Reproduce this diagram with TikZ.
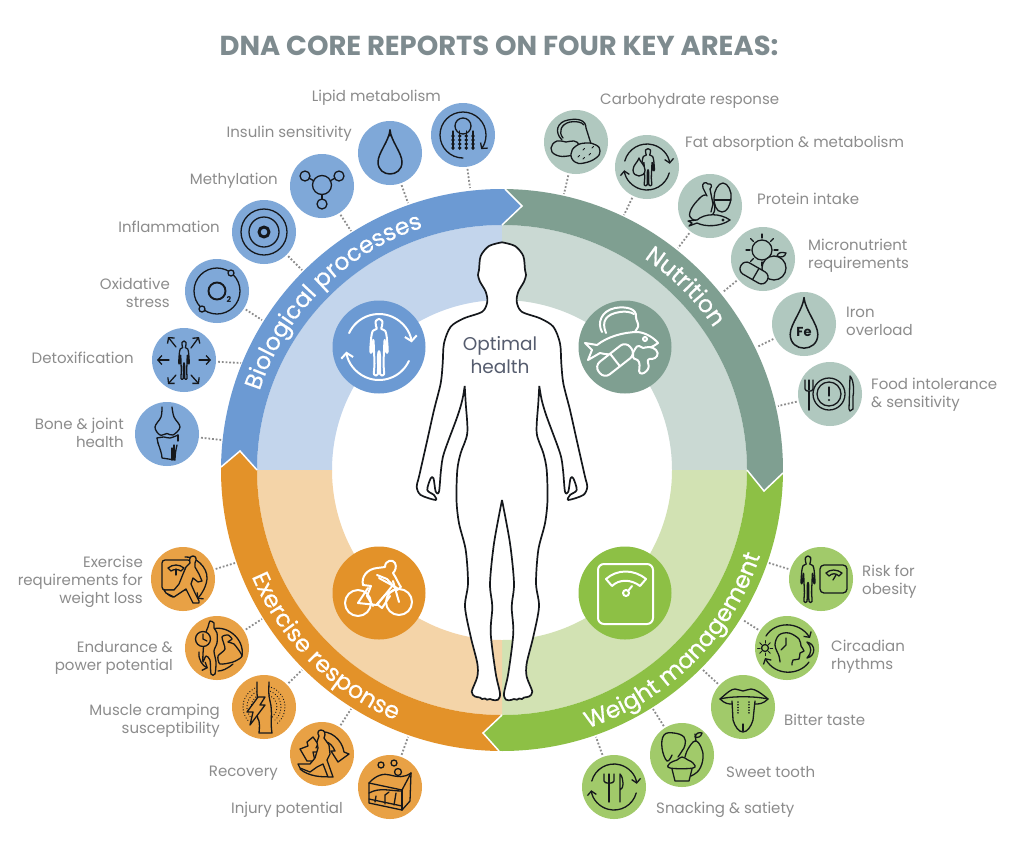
\documentclass[tikz,border=0pt]{standalone}
\usepackage{fontspec}
\setmainfont{Poppins}
\newfontfamily\fp{Poppins}
\newfontfamily\fpb[FakeBold=0.5]{Poppins}
\usetikzlibrary{arrows.meta,decorations.text,shapes.geometric}
\definecolor{bb}{HTML}{6C9AD3}\definecolor{bp}{HTML}{C3D5EC}\definecolor{bs}{HTML}{7FA8D8}
\definecolor{tb}{HTML}{7F9F91}\definecolor{tp}{HTML}{CAD9D3}\definecolor{ts}{HTML}{B0C8BF}
\definecolor{gb}{HTML}{8DC045}\definecolor{gp}{HTML}{D2E2B3}\definecolor{gs}{HTML}{A1CA6A}
\definecolor{ob}{HTML}{E39229}\definecolor{op}{HTML}{F4D4A8}\definecolor{os}{HTML}{E8A145}
\definecolor{lab}{HTML}{8C8C8C}\definecolor{ttl}{HTML}{7E8B8F}\definecolor{dk}{HTML}{15181C}\definecolor{opt}{HTML}{555C6E}
\tikzset{
 ic/.style={draw=dk,line width=1.3pt,line join=round,line cap=round},
 wi/.style={draw=white,line width=2pt,line join=round,line cap=round},
 arh/.style={-{Straight Barb[length=4pt,width=9pt]}},
 arw/.style={-{Straight Barb[length=5pt,width=12pt]}},
 sm/.style={circle,inner sep=0pt,minimum size=64pt,fill=#1},
 lg/.style={circle,inner sep=0pt,minimum size=93pt,fill=#1},
 lr/.style={anchor=east,align=right,text=lab,inner sep=0pt,font=\fp\fontsize{15}{18}\selectfont},
 ll/.style={anchor=west,align=left,text=lab,inner sep=0pt,font=\fp\fontsize{15}{18}\selectfont},
 dots/.style={draw=lab,line width=1.8pt,dash pattern=on 1.8pt off 1.9pt},
 bodyl/.style={draw=dk,line width=1.7pt,line join=round},
 bandt/.style={postaction={decorate},decoration={text along path,text align=center,text={#1}}},
}
\newcommand\icn[2]{\begin{scope}[shift={(#1.center)}]#2\end{scope}}
\newcommand\hum[1][ic]{\draw[#1] plot[smooth cycle,tension=.45] coordinates {(0,-20)(2.6,-18.5)(2.4,-15)(1.8,-13)(5,-11.5)(6.2,-7)(7,3)(5.8,3.5)(4.5,-5)(4,3)(3.6,12)(4,19.5)(1,19.5)(0.8,6)(0,3)(-0.8,6)(-1,19.5)(-4,19.5)(-3.6,12)(-4,3)(-4.5,-5)(-5.8,3.5)(-7,3)(-6.2,-7)(-5,-11.5)(-1.8,-13)(-2.4,-15)(-2.6,-18.5)};}
\newcommand\carrows[2][ic]{\draw[#1,arh] (165:#2pt) arc[start angle=165,end angle=8,radius=#2pt];\draw[#1,arh] (-15:#2pt) arc[start angle=-15,end angle=-172,radius=#2pt];}
\newcommand\dropp[1][ic]{\draw[#1] (0,-23) .. controls (1,-12) and (12,0) .. (12,9) .. controls (12,17) and (6,21) .. (0,21) .. controls (-6,21) and (-12,17) .. (-12,9) .. controls (-12,0) and (-1,-12) .. (0,-23) -- cycle;}
\newcommand\bodypath[1]{plot[smooth,tension=.5] coordinates {(502,242.3)(515,246)(523.3,256)(525,270)(526,275)(524,281.7)(518.3,291.7)(516.7,301.7)(521.7,311.7)(540,318.3)(553.3,326.7)(560,343.3)(561.3,363.3)(563.3,383.3)(570,410)(576.7,440)(585,476.7)(587.3,486.7)(583.3,495)(568.3,500)(570,495)(576.7,490)(573.3,478.3)(570.5,478.3)(568.3,491.7)(565,491.7)(563,470)(560,453)(546.7,416.7)(541.7,400)(539.3,386)} #1 plot[smooth,tension=.5] coordinates {(539.3,386)(538.3,403)(536.7,433)(543.3,453)(546.7,470)(547.5,500)(545,523.3)(538.3,550)(536,583.3)(539,606.7)(533.3,636.7)(526.7,663.3)(526.7,676.7)(532.3,691.7)(529,696.5)(524,697.5)(522,699)(519,698.5)(517,699.7)(514,699)(511,700)(506,699.7)(504,693.3)(508.3,673.3)(513.3,633.3)(511.7,606.7)(514,583.3)(510,543.3)(502,500)}}
\begin{document}
\begin{tikzpicture}[x=1pt,y=-1pt]
\useasboundingbox (0,0) rectangle (1024,852);
\fill[white] (0,0) rectangle (1024,852);
\coordinate (O) at (502,470);
% pale sectors
\newcommand\pale[3]{\fill[#1] ([shift={(O)}]#2:245pt) arc[start angle=#2,end angle=#3,radius=245pt] -- ([shift={(O)}]#3:170pt) arc[start angle=#3,end angle=#2,radius=170pt] -- cycle;}
\pale{bp}{90}{180}\pale{tp}{0}{90}\pale{gp}{-90}{0}\pale{op}{180}{270}
% bands
\coordinate (tB) at (522,206);\coordinate (tT) at (764,491);\coordinate (tG) at (483,733);\coordinate (tO) at (240,451);
\fill[bb] ([shift={(O)}]179.39:281pt) arc[start angle=179.39,end angle=89.39,radius=281pt] -- (tB) -- ([shift={(O)}]90:245pt) arc[start angle=90,end angle=180,radius=245pt] -- (tO) -- cycle;
\fill[tb] ([shift={(O)}]89.39:281pt) arc[start angle=89.39,end angle=-0.61,radius=281pt] -- (tT) -- ([shift={(O)}]0:245pt) arc[start angle=0,end angle=90,radius=245pt] -- (tB) -- cycle;
\fill[gb] ([shift={(O)}]-0.61:281pt) arc[start angle=-0.61,end angle=-90.61,radius=281pt] -- (tG) -- ([shift={(O)}]-90:245pt) arc[start angle=-90,end angle=0,radius=245pt] -- (tT) -- cycle;
\fill[ob] ([shift={(O)}]-90.61:281pt) arc[start angle=-90.61,end angle=-180.61,radius=281pt] -- (tO) -- ([shift={(O)}]180:245pt) arc[start angle=180,end angle=270,radius=245pt] -- (tG) -- cycle;
\draw[white,line width=1.5pt] ([shift={(O)}]89.39:281pt) -- (tB) -- ([shift={(O)}]90:245pt);
\draw[white,line width=1.5pt] ([shift={(O)}]-0.61:281pt) -- (tT) -- ([shift={(O)}]0:245pt);
\draw[white,line width=1.5pt] ([shift={(O)}]-90.61:281pt) -- (tG) -- ([shift={(O)}]-90:245pt);
\draw[white,line width=1.5pt] ([shift={(O)}]-180.61:281pt) -- (tO) -- ([shift={(O)}]180:245pt);
% band text
\path[bandt={|\fpb\fontsize{23.5}{24}\selectfont\color{white}|Biological processes}] ([shift={(O)}]178:255pt) arc[start angle=178,end angle=92,radius=255pt];
\path[bandt={|\fpb\fontsize{23.5}{24}\selectfont\color{white}|Nutrition}] ([shift={(O)}]88:255pt) arc[start angle=88,end angle=2,radius=255pt];
\path[bandt={|\fpb\fontsize{23.5}{24}\selectfont\color{white}|Weight management}] ([shift={(O)}]-88:272pt) arc[start angle=-88,end angle=-2,radius=272pt];
\path[bandt={|\fpb\fontsize{23.5}{24}\selectfont\color{white}|Exercise response}] ([shift={(O)}]182:272pt) arc[start angle=182,end angle=268,radius=272pt];
% title
\node[inner sep=0pt,text=ttl,font=\fp\bfseries\fontsize{27.4}{28}\selectfont] (title) at (499,46) {DNA CORE REPORTS ON FOUR KEY AREAS:};
% big circles
\node[lg=bb] (L1) at (379,347) {};\node[lg=tb] (L2) at (625,347) {};\node[lg=ob] (L3) at (379,593) {};\node[lg=gb] (L4) at (625,593) {};
\icn{L1}{\draw[wi,arw] (155:33pt) arc[start angle=155,end angle=8,radius=33pt];\draw[wi,arw] (-25:33pt) arc[start angle=-25,end angle=-172,radius=33pt];
 \begin{scope}[xscale=1.25,yscale=1.4]\hum[wi]\end{scope}}
\icn{L2}{
 \draw[wi] (-23,-15) .. controls (-28,-24) and (-24,-36) .. (-10,-39) .. controls (2,-41) and (12,-38) .. (11,-30) .. controls (11,-26) and (14,-24) .. (13,-20) -- (10,-15);
 \draw[wi] (-19,-14) .. controls (-24,-26) and (-19,-33) .. (-5,-35) .. controls (0,-36) and (6,-35) .. (9,-33);
 \draw[wi,fill=tb] (-40,-4) -- (-28,-2) .. controls (-18,-10) and (-2,-15) .. (13,-15) .. controls (22,-14) and (30,-8) .. (33,-4) .. controls (28,0) and (24,1) .. (22,1) .. controls (10,5) and (-10,10) .. (-25,6) -- (-37,13) -- (-33,3) -- cycle;
 \draw[wi] (20,-8) circle (2pt);
 \begin{scope}[shift={(-10,13)},rotate=38]\draw[wi,fill=tb,rounded corners=7pt] (-20,-8) rectangle (20,8);\draw[wi] (0,-8)--(0,8);\end{scope}
 \draw[wi,fill=tb] plot[smooth cycle,tension=.9] coordinates {(10,2)(14,-1)(18,1)(24,0)(31,3)(32,9)(27,12)(23,13)(23,22)(15,26)(14,15)(8,10)};
}
\icn{L3}{
 \draw[wi] (-21,10) circle (13pt);\draw[wi] (20,9) circle (13pt);
 \draw[wi] (-21,10) -- (-11,-5);\draw[wi] (14,-12) -- (20,9);\draw[wi] (-21,10) -- (-2,12) -- (14,-8);
 \draw[wi] (-16,-8) .. controls (-18,-16) and (-12,-24) .. (-2,-25) -- (6,-26) .. controls (6,-33) and (14,-34) .. (16,-30) .. controls (18,-26) and (16,-22) .. (14,-20) .. controls (18,-14) and (20,-8) .. (22,-6) -- (18,-3) -- (8,-14) -- (-2,-18);
 \draw[wi] (-16,-8) -- (-8,-7) -- (-12,3) -- (-6,13);
 \draw[wi] (0,-15) -- (18,-5) -- (6,2) -- (-2,11) -- (3,15) -- (11,3);
}
\icn{L4}{
 \draw[wi,rounded corners=6pt] (-27,-29) rectangle (28,31);
 \draw[wi] (-19,-14) .. controls (-8,-24) and (9,-24) .. (21,-14) -- (15,-7) .. controls (6,-14) and (-6,-14) .. (-13,-7) -- cycle;
 \draw[wi] (7,-7) -- (3,-2);\draw[wi] (1,0) circle (3pt);
}
% body
\fill[white] \bodypath{--} -- cycle;
\begin{scope}[shift={(1004,0)},xscale=-1]\fill[white] \bodypath{--} -- cycle;\end{scope}
\draw[bodyl] \bodypath{};
\begin{scope}[shift={(1004,0)},xscale=-1]\draw[bodyl] \bodypath{};\end{scope}
\node[inner sep=0pt,align=center,text=opt,font=\fp\fontsize{18.5}{23}\selectfont] (opth) at (500,355) {Optimal\\health};
% small circles
\foreach \n/\p in {b1/{463,135},b2/{390,153},b3/{322,186},b4/{264,232},b5/{217,291},b6/{184,360},b7/{167,434}}{\node[sm=bs] (\n) at (\p) {};}
\foreach \n/\p in {t1/{576,142},t2/{647,167},t3/{710,206},t4/{763,259},t5/{804,324},t6/{830,394}}{\node[sm=ts] (\n) at (\p) {};}
\foreach \n/\p in {g1/{821,579},g2/{787,648},g3/{743,707},g4/{682,755},g5/{614,787}}{\node[sm=gs] (\n) at (\p) {};}
\foreach \n/\p in {o1/{183,579},o2/{217,648},o3/{264,707},o4/{322,754},o5/{390,787}}{\node[sm=os] (\n) at (\p) {};}
% connectors
\foreach \n/\p in {b1/{470,188},b2/{408,203},b3/{351,231},b4/{302,270},b5/{262,320},b6/{241,363},b7/{222,440},
 t1/{564,194},t2/{624,215},t3/{678,248},t4/{723,292},t5/{757,347},t6/{778,406},
 g1/{769,563},g2/{743,620},g3/{703,670},g4/{653,709},g5/{596,737},
 o1/{235,563},o2/{262,619},o3/{302,670},o4/{351,709},o5/{408,737}}{
 \coordinate (e\n) at (\p);\draw[dots,shorten <=2pt] (\n) -- (e\n);}
% labels
\node[lr] (lb1) at (441,97.5) {Lipid metabolism};
\node[lr] (lb2) at (352,134) {Insulin sensitivity};
\node[lr] (lb3) at (278,181) {Methylation};
\node[lr] (lb4) at (220,227) {Inflammation};
\node[lr] (lb5) at (170,292.5) {Oxidative\\stress};
\node[lr] (lb6) at (134,358) {Detoxification};
\node[lr] (lb7) at (124,432.5) {Bone \& joint\\health};
\node[ll] (lt1) at (600,101) {Carbohydrate response};
\node[ll] (lt2) at (685,144) {Fat absorption \& metabolism};
\node[ll] (lt3) at (757,199) {Protein intake};
\node[ll] (lt4) at (808,256) {Micronutrient\\requirements};
\node[ll] (lt5) at (846,321) {Iron\\overload};
\node[ll] (lt6) at (871,395) {Food intolerance\\\& sensitivity};
\node[ll] (lg1) at (862,582) {Risk for\\obesity};
\node[ll] (lg2) at (831,657) {Circadian\\rhythms};
\node[ll] (lg3) at (784,720) {Bitter taste};
\node[ll] (lg4) at (726,772) {Sweet tooth};
\node[ll] (lg5) at (656,810) {Snacking \& satiety};
\node[lr] (lo1) at (143,582) {Exercise\\requirements for\\weight loss};
\node[lr] (lo2) at (173,658) {Endurance \&\\power potential};
\node[lr] (lo3) at (220,721) {Muscle cramping\\susceptibility};
\node[lr] (lo4) at (278,773) {Recovery};
\node[lr] (lo5) at (343,810) {Injury potential};
% ---- icons blue
\icn{b1}{\draw[ic,arh] (270:23pt) arc[start angle=270,end angle=-38,radius=23pt];
 \draw[ic] (0,-9) circle (8pt);
 \foreach \x in {-10,-3.3,3.3,10}{\draw[ic] (\x,-4) -- (\x,14);\foreach \y in {1,5,9,13}{\fill[dk] (\x,\y) circle (1.9pt);}}}
\icn{b2}{\dropp[ic,line width=1.5pt]\draw[ic] (0,-23)--(0,-17);}
\icn{b3}{\draw[ic] (0,-1) circle (9.5pt);\draw[ic] (-17,-10) circle (5pt);\draw[ic] (17,-10) circle (5pt);\draw[ic] (0,18) circle (5pt);\draw[ic] (-13,-8)--(-8,-5);\draw[ic] (13,-8)--(8,-5);\draw[ic] (0,8.5)--(0,13);}
\icn{b4}{\draw[ic] (0,0) circle (23pt);\draw[ic] (0,0) circle (15pt);\draw[ic,line width=3pt] (0,0) circle (5pt);}
\icn{b5}{\draw[ic] (0,0) circle (23pt);\draw[ic,fill=bs] (14,-18) circle (3pt);\draw[ic,fill=bs] (-15,18) circle (3pt);\draw[ic,line width=1.9pt] (0,0) circle (8.5pt);
 \node[inner sep=0pt,text=dk,font=\fp\bfseries\fontsize{8}{8}\selectfont] (o2t) at (12,9) {2};}
\icn{b6}{\begin{scope}[xscale=.75,yscale=.95]\hum\end{scope}
 \foreach \a/\b/\c/\d in {-15/0/-27/0,15/0/27/0,-8/-13/-16/-23,7/-12/15/-23,-8/15/-16/24,7/15/15/24}{\draw[ic,arh] (\a,\b) -- (\c,\d);}}
\icn{b7}{\draw[ic] plot[smooth,tension=.6] coordinates {(-5,-27)(-6,-17)(-12,-7)(-7,1)(0,-.5)(6,1)(13,-7)(7,-17)(5,-27)};
 \draw[ic] plot[smooth,tension=.6] coordinates {(-10,4)(-3,3)(3,4)(11,1)};\draw[ic] (-10,4)--(-9,9);\draw[ic] (11,1)--(11,7);
 \draw[ic] (-9,9) .. controls (-7,15) and (-5,20) .. (-5,24) -- (8,26) .. controls (8,20) and (9,15) .. (10,11);\draw[ic] (5,14)--(5,26);\draw[ic] (7,11)--(7,25);}
% ---- icons teal
\icn{t1}{\draw[ic] (-14,-2) .. controls (-22,-10) and (-19,-20) .. (-8,-22) .. controls (2,-24) and (10,-22) .. (10,-14) -- (16,5);
 \draw[ic] (-13,-4) .. controls (-18,-10) and (-15,-18) .. (-6,-20) .. controls (0,-21) and (6,-20) .. (8,-17);
 \draw[ic,fill=ts] plot[smooth cycle,tension=.8] coordinates {(-25,6)(-19,-1)(-10,0)(-2,-1)(3,3)(1,10)(-8,14)(-20,13)};
 \draw[ic,fill=ts] plot[smooth cycle,tension=.8] coordinates {(-5,12)(0,4)(10,1)(20,3)(24,9)(20,16)(8,21)(-1,20)};
 \foreach \a/\b in {2/15,7/8,13/13,16/6,7/17}{\draw[ic,line width=1pt] (\a,\b)--(\a+1.5,\b-1.5);}}
\icn{t2}{\carrows{23}\begin{scope}[shift={(1,0)},scale=.92]\hum\end{scope}\draw[ic,fill=ts] (-8,-9) .. controls (-7,-5) and (-2,-2) .. (-2,3) .. controls (-2,7) and (-5,9) .. (-8,9) .. controls (-11,9) and (-14,7) .. (-14,3) .. controls (-14,-2) and (-9,-5) .. (-8,-9);}
\icn{t3}{\draw[ic] (13,-23) .. controls (18,-23) and (22,-14) .. (21,-8) .. controls (20,0) and (17,6) .. (12,6) .. controls (6,6) and (4,-2) .. (4,-8) .. controls (4,-15) and (8,-23) .. (13,-23) -- cycle;\draw[ic] (4,-6)--(21,-6);
 \draw[ic,fill=ts] plot[smooth cycle,tension=.7] coordinates {(-4,-11)(-13,-5)(-20,6)(-18,13)(-7,14)(3,8)(4,-2)};
 \draw[ic,fill=ts] (-3,-10) -- (-7,-18) .. controls (-9,-23) and (-4,-25) .. (-2,-22) .. controls (1,-23) and (3,-20) .. (0,-17) -- (3,-2) -- (1,6);
 \draw[ic,fill=ts] (-22,15) -- (-13,14) .. controls (-5,7) and (10,7) .. (20,14) .. controls (10,21) and (-5,21) .. (-13,17) -- (-21,20) -- (-18,17) -- cycle;\fill[dk] (13,14) circle (1.6pt);}
\icn{t4}{\draw[ic] (-1,-9) circle (10pt);\foreach \a in {0,45,...,315}{\draw[ic,shift={(-1,-9)}] (\a:12pt)--(\a:16pt);}
 \draw[ic,fill=ts] (11,9) circle (12pt);\draw[ic,fill=ts] (14,-3) .. controls (15,-7) and (19,-7) .. (23,-6) .. controls (22,-2) and (18,-1) .. (14,-3) -- cycle;
 \begin{scope}[shift={(-9,14)},rotate=-30]\draw[ic,fill=ts,rounded corners=6pt] (-15,-6.5) rectangle (15,6.5);\draw[ic] (2,-6.5)--(2,6.5);\end{scope}}
\icn{t5}{\begin{scope}[scale=1.15]\dropp[ic,line width=1.5pt]\end{scope}\node[inner sep=0pt,text=dk,font=\fp\bfseries\fontsize{13}{13}\selectfont] (fe) at (0,8) {Fe};}
\icn{t6}{\draw[ic] (-1,0) circle (16pt);\draw[ic] (-1,0) circle (12pt);\draw[ic] (-1,-7)--(-1,2);\fill[dk] (-1,6) circle (1.1pt);
 \draw[ic,line width=1.5pt] (-21,-2)--(-21,16);\draw[ic] (-25,-14)--(-25,-5) .. controls (-25,-2) and (-17,-2) .. (-17,-5) -- (-17,-14);\draw[ic] (-21,-14)--(-21,-4);
 \draw[ic] (20,-18) .. controls (24,-14) and (24,-2) .. (23,2) -- (23,15) -- (20,17) -- (19,15) -- cycle;}
% ---- icons green
\icn{g1}{\begin{scope}[shift={(-13,0)},xscale=1,yscale=1.15]\hum\end{scope}\draw[ic,rounded corners=4pt] (-1,-14) rectangle (26,14);
 \draw[ic] (5,-6) .. controls (9,-10) and (16,-10) .. (21,-6) -- (18,-3) .. controls (15,-6) and (11,-6) .. (8,-3) -- cycle;\draw[ic] (15,-4)--(12,1);}
\icn{g2}{\draw[ic,arh] (-21,-12) .. controls (-12,-27) and (12,-27) .. (23,-10);\draw[ic,arh] (22,14) .. controls (12,28) and (-12,28) .. (-22,10);
 \draw[ic] plot[smooth,tension=.6] coordinates {(-7,14)(-8,8)(-12,-3)(-8,-13)(2,-15)(12,-9)(14,-2)(17,3)(13,5)(12,11)(6,12)(5,17)};
 \draw[ic] (-1,-10)--(-1,-3)--(-6,2);\draw[ic] (-22,0) circle (3.5pt);\foreach \a in {0,45,...,315}{\draw[ic,line width=1pt,shift={(-22,0)}] (\a:5pt)--(\a:7.5pt);}
 \draw[ic] (20,-6) .. controls (29,-4) and (29,8) .. (20,10) .. controls (25,5) and (25,-1) .. (20,-6) -- cycle;}
\icn{g3}{\draw[ic] (-23,-8) .. controls (-16,-14) and (-12,-18) .. (-8,-18) .. controls (-5,-18) and (-2,-16) .. (0,-16) .. controls (2,-16) and (5,-18) .. (8,-18) .. controls (12,-18) and (18,-14) .. (25,-8);
 \draw[ic] (-23,-8) .. controls (-12,-11) and (12,-11) .. (25,-8);\draw[ic] (-23,-8) .. controls (-18,-3) and (-14,-3) .. (-11,-3);\draw[ic] (25,-8) .. controls (20,-3) and (16,-3) .. (12,-3);
 \draw[ic] (-11,-6) -- (-10,13) .. controls (-8,20) and (-4,25) .. (0,25) .. controls (4,25) and (8,20) .. (10,13) -- (12,-6);\draw[ic] (0,17)--(0,24);
 \draw[ic,dash pattern=on .1pt off 2.6pt,line width=1.5pt] (-5,-5)--(-5,8);\draw[ic,dash pattern=on .1pt off 2.6pt,line width=1.5pt] (6,-5)--(6,8);}
\icn{g4}{\draw[ic] plot[smooth,tension=.7] coordinates {(-10,0)(-15,6)(-20,-7)(-18,-20)(-8,-22)(2,-18)(3,-10)(0,-4)(-4,2)};
 \draw[ic] plot[smooth,tension=.7] coordinates {(3,2)(6,-6)(13,-14)(19,-8)(21,3)(17,15)(9,21)};\draw[ic] (14,-14)--(13,-21);\draw[ic] (13,-18) .. controls (14,-22) and (17,-23) .. (20,-22) .. controls (19,-18) and (16,-17) .. (13,-18);
 \draw[ic,fill=gs] plot[smooth cycle,tension=.7] coordinates {(-12,13)(-12,8)(-5,5)(0,2)(6,5)(11,8)(11,13)};\draw[ic] (-10,14)--(-7,26)--(7,26)--(10,14);}
\icn{g5}{\carrows{23}\draw[ic] (-5,-13)--(-5,15);\draw[ic] (-10,-13)--(-10,-6) .. controls (-10,-3) and (0,-3) .. (0,-6) -- (0,-13);\draw[ic] (6,15)--(6,-13) .. controls (10,-9) and (10,2) .. (6,3);}
% ---- icons orange
\icn{o1}{\draw[ic,arh] (2,-22) .. controls (12,-23) and (25,-12) .. (24,0) .. controls (23,10) and (16,18) .. (14,20);\draw[ic] (-10,18) .. controls (-14,17) and (-17,14) .. (-18,12);
 \draw[ic,rounded corners=3pt] (-21,-19) rectangle (8,11);\draw[ic] (-15,-11) .. controls (-10,-15) and (-4,-15) .. (1,-11) -- (-2,-8) .. controls (-5,-10) and (-9,-10) .. (-12,-8) -- cycle;\draw[ic] (-7,-10)--(-7,-4);
 \draw[ic,fill=os] (10,-23) .. controls (13,-23) and (14,-20) .. (12,-16) -- (12,-12) -- (16,-5) -- (19,2) -- (15,3) -- (10,-1) -- (8,5) -- (12,14) -- (16,22) -- (16,24) -- (10,24) -- (3,10) -- (-3,14) -- (-9,18) -- (-17,14) -- (-19,11) -- (-9,11) -- (-4,5) -- (0,-5) -- (3,-12) -- (7,-16) .. controls (6,-20) and (7,-23) .. (10,-23) -- cycle;}
\icn{o2}{\draw[ic] (-7,-18) .. controls (8,-25) and (28,-10) .. (25,8);\draw[ic] (16,16) .. controls (10,21) and (5,23) .. (1,23);\draw[ic,arh] (-18,4) .. controls (-19,12) and (-14,18) .. (-9,20);
 \draw[ic,fill=os] plot[smooth cycle,tension=.45] coordinates {(-7,-27)(-3,-25)(-3,-20)(0,-15)(0,-5)(-3,3)(-1,14)(-2,26)(-6,26)(-7,12)(-11,8)(-14,14)(-14,6)(-13,-6)(-11,-16)(-9,-21)};
 \draw[ic,fill=os] (-14,-9) circle (7.5pt);\draw[ic] (-14,-14)--(-14,-9)--(-10,-7);
 \draw[ic] plot[smooth cycle,tension=.4] coordinates {(5,-11)(11,-13)(15,-9)(11,-6)(17,-4)(25,8)(16,14)(3,16)(1,8)(8,1)};}
\icn{o3}{\foreach \r in {13,17,21}{\draw[draw=dk,line width=1.2pt,dash pattern=on .1pt off 2.8pt,line cap=round] (-50:\r pt) arc[start angle=-50,end angle=220,radius=\r pt];}
 \draw[ic,fill=os] (-7,-25) -- (-7,-14) .. controls (-6,-6) and (-9,8) .. (-5,14) .. controls (-4,20) and (-5,24) .. (-5,26) -- (8,26) .. controls (6,15) and (9,5) .. (6,-6) .. controls (4,-12) and (5,-20) .. (5,-25);
 \draw[ic,fill=os] (-6,-10) -- (-17,5) -- (-11,5) -- (-14,18) -- (1,-2) -- (-4,-2) -- (1,-10) -- cycle;}
\icn{o4}{\draw[ic,fill=os] (-3,-2) -- (-9,-2) -- (-7,7) -- (-15,7) -- (-22,-5) -- (-14,-8) -- (-15,-12) -- (-9,-17) -- (-4,-10) -- (-6,-6);
 \draw[ic] (-3,-22) .. controls (8,-24) and (20,-15) .. (22,-2) -- (27,0) -- (16,8) -- (9,-3) -- (13,-3) .. controls (11,-8) and (7,-12) .. (4,-12);
 \draw[ic] (-22,15) .. controls (-14,22) and (0,24) .. (10,22);
 \draw[ic,fill=os] (-1,-24) .. controls (3,-24) and (4,-20) .. (2,-16) -- (7,-9) -- (8,0) -- (5,6) -- (11,23) -- (6,23) -- (1,10) -- (-5,13) -- (-12,18) -- (-22,14) -- (-24,10) -- (-12,10) -- (-7,4) -- (-4,-6) -- (-5,-12) -- (-3,-18) .. controls (-5,-21) and (-4,-24) .. (-1,-24) -- cycle;}
\icn{o5}{\draw[ic] (-21,-4) -- (-21,16) -- (12,23) -- (20,14) -- (21,-14);\draw[ic] (-21,-4) .. controls (-14,-12) and (-6,-14) .. (0,-12) .. controls (8,-10) and (14,-9) .. (21,-14);\draw[ic] (-21,-4) -- (12,3)--(21,-14);\draw[ic] (12,3)--(12,23);
 \draw[ic] (-21,6) .. controls (-10,0) and (0,4) .. (12,4);\draw[ic] (-21,12)--(12,19);
 \draw[ic] (-15,15)--(-14,9);\draw[ic] (-5,17)--(-5,8)--(-1,5);\draw[ic] (4,18)--(6,6);
 \draw[ic] (-9,-22) circle (3pt);\draw[ic] (4,-24) circle (3pt);\draw[ic,fill=os] (8,-15) circle (3.5pt);}
\end{tikzpicture}
\end{document}
